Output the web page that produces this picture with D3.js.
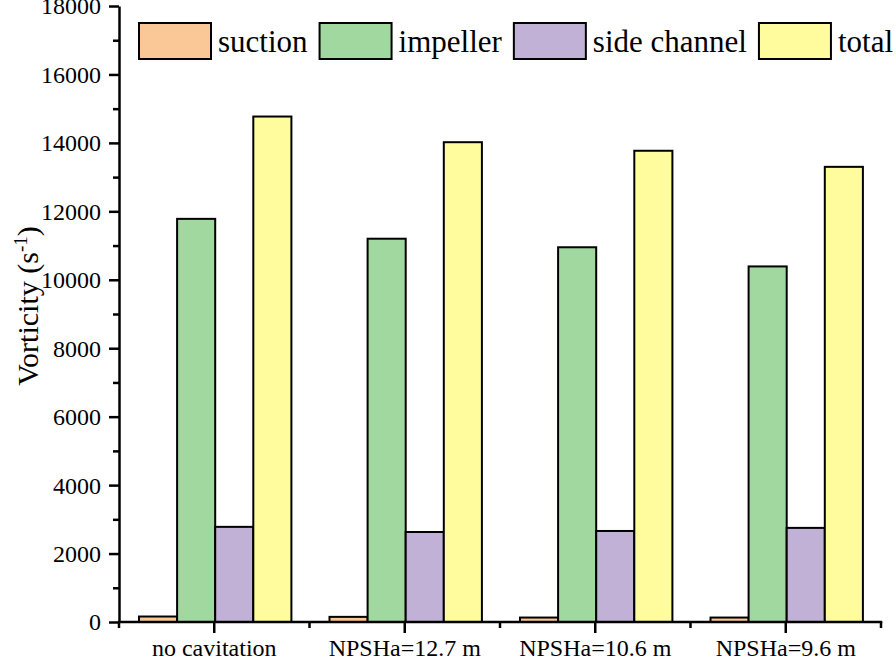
<!DOCTYPE html>
<html>
<head>
<meta charset="utf-8">
<script src="https://cdn.jsdelivr.net/npm/d3@7"></script>
<style>
  body { margin: 0; background: #fff; }
</style>
</head>
<body>
<div id="chart"></div>
<script>
// categories and series
const categories = ["no cavitation", "NPSHa=12.7 m", "NPSHa=10.6 m", "NPSHa=9.6 m"];
const seriesNames = ["suction", "impeller", "side channel", "total"];
const seriesColors = ["#fac896", "#a0d8a0", "#c2b1d6", "#fffc9d"];

// vorticity values (s^-1)
const suction = [160, 150, 130, 130];
const impeller = [11780, 11200, 10950, 10390];
const sideChannel = [2780, 2630, 2660, 2750];
const total = [14770, 14020, 13770, 13300];

const yMajorTicks = [0, 2000, 4000, 6000, 8000, 10000, 12000, 14000, 16000, 18000];
const yMinorTicks = [1000, 3000, 5000, 7000, 9000, 11000, 13000, 15000, 17000];

const seriesValues = [suction, impeller, sideChannel, total];
const serif = "'Liberation Serif', 'DejaVu Serif', serif";

// svg set up
let svgWidth = 896;
let svgHeight = 660;
let margin = { top: 6, right: 15, bottom: 38, left: 119 };
let width = svgWidth - margin.left - margin.right;
let height = svgHeight - margin.top - margin.bottom;

let svg = d3.select("#chart")
    .append("svg")
    .attr("width", svgWidth)
    .attr("height", svgHeight)
    .style("font-family", serif);

let chartGroup = svg.append("g")
    .attr("transform", `translate(${margin.left},${margin.top})`);

// scales
let x = d3.scaleBand()
    .domain(categories)
    .range([0, width])
    .padding(0);

let xSeries = d3.scaleBand()
    .domain(seriesNames)
    .range([x.bandwidth() * 0.105, x.bandwidth() * 0.905])
    .padding(0);

let y = d3.scaleLinear()
    .domain([0, 18000])
    .range([height, 0]);

// table for the bars
let rows = [];
categories.forEach((c, i) => {
    seriesNames.forEach((s, j) => {
        rows.push({ category: c, series: s, value: seriesValues[j][i], color: seriesColors[j] });
    });
});

// bars
chartGroup.selectAll("rect.bar")
    .data(rows)
    .enter()
    .append("rect")
    .attr("class", "bar")
    .attr("x", d => x(d.category) + xSeries(d.series))
    .attr("y", d => y(d.value))
    .attr("width", xSeries.bandwidth())
    .attr("height", d => y(0) - y(d.value))
    .attr("fill", d => d.color)
    .attr("stroke", "#000")
    .attr("stroke-width", 2);

// y axis: minor ticks then major ticks with labels
chartGroup.append("g")
    .call(d3.axisLeft(y).tickValues(yMinorTicks).tickSize(6).tickFormat("").tickSizeOuter(0))
    .call(g => g.select(".domain").remove())
    .selectAll("line").attr("stroke-width", 2.5);

let yAxis = chartGroup.append("g")
    .call(d3.axisLeft(y).tickValues(yMajorTicks).tickSize(10).tickSizeOuter(0).tickPadding(8).tickFormat(d3.format("d")));
yAxis.select(".domain").attr("stroke-width", 2.5);
yAxis.selectAll("line").attr("stroke-width", 2.5);
yAxis.selectAll("text")
    .style("font-family", serif)
    .style("font-size", "24px")
    .attr("dy", "0.33em");

// x axis: major ticks at category centres, minor ticks at band edges
let xAxis = chartGroup.append("g")
    .attr("transform", `translate(0,${height})`)
    .call(d3.axisBottom(x).tickSize(11).tickSizeOuter(0).tickPadding(6));
xAxis.select(".domain").attr("stroke-width", 2.5).attr("d", `M-1.25,0H${width + 1.25}`);
xAxis.selectAll("line").attr("stroke-width", 2.5);
xAxis.selectAll("text")
    .style("font-family", serif)
    .style("font-size", "24px");

let edges = categories.map(c => x(c)).concat([x.range()[1]]);
chartGroup.append("g")
    .selectAll("line")
    .data(edges)
    .enter()
    .append("line")
    .attr("x1", d => d)
    .attr("x2", d => d)
    .attr("y1", height)
    .attr("y2", height + 6)
    .attr("stroke", "#000")
    .attr("stroke-width", 2.5);

// y axis title
let yTitle = svg.append("text")
    .attr("transform", `translate(38,${margin.top + height / 2 - 8}) rotate(-90)`)
    .attr("text-anchor", "middle")
    .style("font-family", serif)
    .style("font-size", "30px");
yTitle.append("tspan").text("Vorticity (s");
yTitle.append("tspan").style("font-size", "19px").attr("dy", "-11").text("-1");
yTitle.append("tspan").attr("dy", "11").text(")");

// legend
let legend = svg.append("g").attr("transform", "translate(139,23)");
let lx = 0;
seriesNames.forEach((s, i) => {
    legend.append("rect")
        .attr("x", lx)
        .attr("y", 0)
        .attr("width", 72)
        .attr("height", 36)
        .attr("fill", seriesColors[i])
        .attr("stroke", "#000")
        .attr("stroke-width", 2);
    let t = legend.append("text")
        .attr("x", lx + 79)
        .attr("y", 29)
        .style("font-family", serif)
        .style("font-size", "31px")
        .text(s);
    lx += 79 + t.node().getComputedTextLength() + 12;
});
</script>
</body>
</html>
